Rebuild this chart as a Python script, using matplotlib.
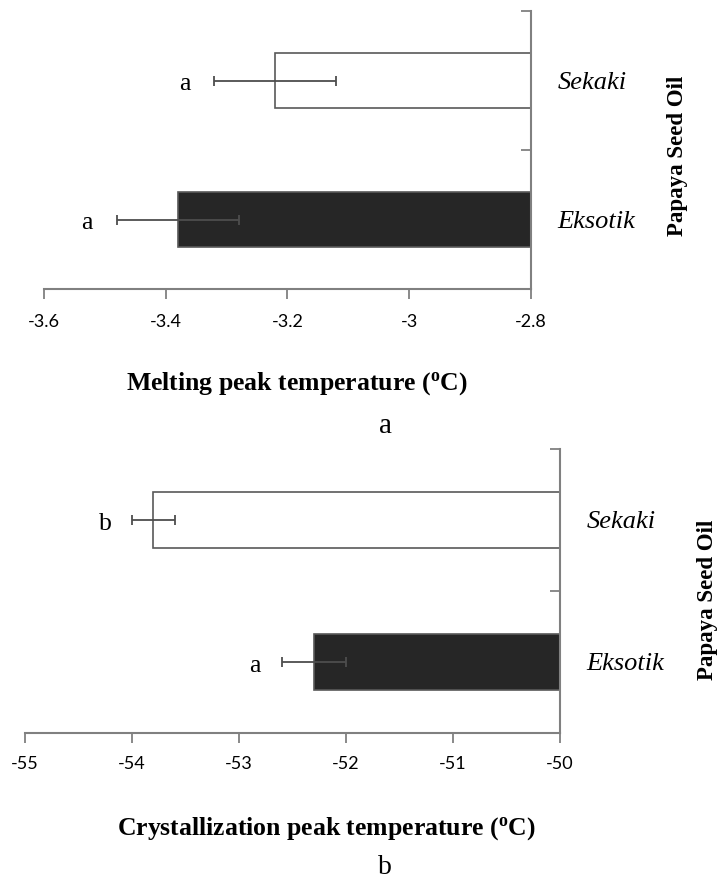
import numpy as np
import matplotlib
matplotlib.use("Agg")
import matplotlib.pyplot as plt
from matplotlib.ticker import FixedLocator, FuncFormatter

# ---- data -------------------------------------------------------------
samples = ["Eksotik", "Sekaki"]

melting_mean = [-3.38, -3.22]
melting_err = [0.10, 0.10]
melting_letters = ["a", "a"]
melting_ticks = [-3.6, -3.4, -3.2, -3.0, -2.8]

cryst_mean = [-52.3, -53.8]
cryst_err = [0.3, 0.2]
cryst_letters = ["a", "b"]
cryst_ticks = [-55, -54, -53, -52, -51, -50]

bar_colors = ["#262626", "white"]

# ---- figure -----------------------------------------------------------
W, H = 721, 881
DPI = 100
fig = plt.figure(figsize=(W / DPI, H / DPI), dpi=DPI)

SERIF = "Liberation Serif"
TICKFONT = "Lato"
AXIS_GREY = "#808080"
EDGE_GREY = "#595959"
ERR_GREY = "#4d4d4d"


def px_axes(left, top, right, bottom):
    return fig.add_axes([left / W, 1 - bottom / H, (right - left) / W, (bottom - top) / H])


def fig_text(x, y, s, **kw):
    fig.text(x / W, 1 - y / H, s, **kw)


def draw_panel(ax, means, errs, letters, ticks, tick_pad, letter_offset):
    base = ticks[-1]
    ypos = np.arange(len(samples))
    ax.barh(ypos, np.array(means) - base, left=base, height=0.40,
            color=bar_colors, edgecolor=EDGE_GREY, linewidth=1.2, zorder=2)
    ax.errorbar(means, ypos, xerr=errs, fmt="none", ecolor=ERR_GREY,
                elinewidth=1.3, capsize=3.8, capthick=1.3, zorder=3)
    for m, e, y, lab in zip(means, errs, ypos, letters):
        ax.annotate(lab, xy=(m - e, y), xytext=(-letter_offset, -1),
                    textcoords="offset pixels", ha="center", va="center_baseline",
                    fontsize=18.5, family=SERIF, color="black")

    ax.set_xlim(ticks[0], ticks[-1])
    ax.set_ylim(-0.5, 1.5)

    for side in ("top", "left"):
        ax.spines[side].set_visible(False)
    for side in ("bottom", "right"):
        ax.spines[side].set_color(AXIS_GREY)
        ax.spines[side].set_linewidth(1.5)

    ax.xaxis.set_major_locator(FixedLocator(ticks))
    ax.xaxis.set_major_formatter(FuncFormatter(lambda v, p: f"{v:g}"))
    ax.tick_params(axis="x", direction="out", length=7, width=1.3,
                   color=AXIS_GREY, pad=tick_pad, labelsize=13)
    for t in ax.get_xticklabels():
        t.set_family(TICKFONT)

    ax.yaxis.tick_right()
    ax.set_yticks(ypos)
    ax.set_yticklabels(samples, fontsize=19, family=SERIF, style="italic")
    ax.set_yticks([-0.5, 0.5, 1.5], minor=True)
    ax.tick_params(axis="y", which="major", length=0, pad=19)
    ax.tick_params(axis="y", which="minor", direction="in", length=7, width=1.3,
                   color=AXIS_GREY, left=False, right=True)


# panel a: melting
ax1 = px_axes(44, 11, 531, 289)
draw_panel(ax1, melting_mean, melting_err, melting_letters, melting_ticks, 11, 30)
fig_text(297, 390, "Melting peak temperature ($\\mathregular{^{o}}$C)",
         ha="center", va="baseline", fontsize=18.5, family=SERIF, weight="bold")
fig_text(385, 433, "a", ha="center", va="baseline", fontsize=21, family=SERIF)
fig_text(678, 156, "Papaya Seed Oil", rotation=90, ha="center", va="center",
         fontsize=16.5, family=SERIF, weight="bold")

# panel b: crystallization
ax2 = px_axes(25, 449, 560, 733)
draw_panel(ax2, cryst_mean, cryst_err, cryst_letters, cryst_ticks, 9.5, 27)
fig_text(326, 835, "Crystallization peak temperature ($\\mathregular{^{o}}$C)",
         ha="center", va="baseline", fontsize=18.5, family=SERIF, weight="bold")
fig_text(385, 874, "b", ha="center", va="baseline", fontsize=20, family=SERIF)
fig_text(708, 600, "Papaya Seed Oil", rotation=90, ha="center", va="center",
         fontsize=16.5, family=SERIF, weight="bold")

fig.savefig("out.png", dpi=DPI, facecolor="white")
